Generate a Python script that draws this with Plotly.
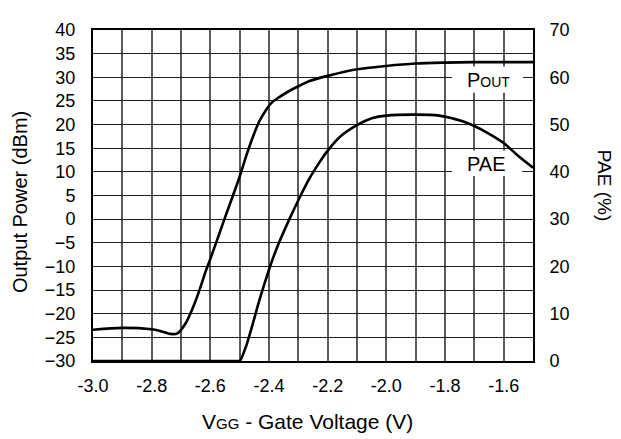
import plotly.graph_objects as go

# Output power (left axis, dBm) vs gate voltage
vgg_pout = [-3.0, -2.9, -2.8, -2.774, -2.734, -2.711, -2.683, -2.66, -2.637, -2.615,
            -2.6, -2.57, -2.552, -2.524, -2.5, -2.479, -2.456, -2.433, -2.41, -2.388,
            -2.365, -2.331, -2.3, -2.262, -2.2, -2.1, -2.0, -1.9, -1.8, -1.7, -1.6, -1.5]
pout_dbm = [-23.4, -23.0, -23.3, -23.6, -24.3, -24.1, -21.9, -18.8, -15.0, -10.9,
            -8.4, -3.2, 0.0, 4.8, 9.0, 13.1, 17.2, 20.7, 23.1, 24.8,
            25.8, 27.1, 28.1, 29.2, 30.3, 31.7, 32.4, 32.9, 33.1, 33.2, 33.2, 33.2]

# PAE (right axis, %) vs gate voltage
vgg_pae = [-3.0, -2.75, -2.51, -2.5, -2.48, -2.457, -2.434, -2.411, -2.389, -2.366, -2.332,
           -2.3, -2.262, -2.228, -2.2, -2.155, -2.1, -2.047, -2.0, -1.9, -1.82,
           -1.74, -1.7, -1.651, -1.6, -1.549, -1.5]
pae_pct = [0.0, 0.0, 0.0, 0.0, 2.8, 7.5, 12.6, 17.2, 21.3, 25.0, 29.8,
           34.0, 38.6, 42.0, 44.5, 47.6, 49.9, 51.4, 51.9, 52.1, 51.9,
           50.7, 49.7, 48.1, 46.1, 43.3, 40.9]

x_tickvals = [-3.0, -2.8, -2.6, -2.4, -2.2, -2.0, -1.8, -1.6]
x_ticktext = ["-3.0", "-2.8", "-2.6", "-2.4", "-2.2", "-2.0", "-1.8", "-1.6"]

FONT = "Liberation Sans, Arial, sans-serif"
CLEAR = "rgba(0,0,0,0)"

fig = go.Figure()
fig.add_trace(go.Scatter(x=vgg_pout, y=pout_dbm, mode="lines",
                         line=dict(color="black", width=2.6, shape="spline", smoothing=0.8),
                         showlegend=False, yaxis="y"))
fig.add_trace(go.Scatter(x=vgg_pae, y=pae_pct, mode="lines",
                         line=dict(color="black", width=2.6, shape="spline", smoothing=0.8),
                         showlegend=False, yaxis="y2"))

fig.update_layout(
    width=613, height=431,
    margin=dict(l=85, r=88, t=15, b=78),
    paper_bgcolor="white", plot_bgcolor="white",
    font=dict(family=FONT, color="black", size=18),
    xaxis=dict(range=[-3.0, -1.5], tickvals=x_tickvals, ticktext=x_ticktext,
               showgrid=True, gridcolor="#5a5a5a", gridwidth=1.6,
               minor=dict(dtick=0.1, tick0=-3.0, showgrid=True, gridcolor="#5a5a5a", gridwidth=1.6),
               showline=True, linecolor="black", linewidth=2, mirror=True,
               ticks="", ticklabelstandoff=7, tickfont=dict(size=18),
               zeroline=False),
    yaxis=dict(range=[-30, 40], dtick=5, tick0=-30,
               showgrid=True, gridcolor="#1e1e1e", gridwidth=1.3,
               showline=True, linecolor="black", linewidth=2, mirror=True,
               ticks="outside", ticklen=12, tickcolor=CLEAR, tickfont=dict(size=18),
               zeroline=False),
    yaxis2=dict(range=[0, 70], dtick=10, tick0=0, overlaying="y", side="right",
                showgrid=False, showline=False, ticks="outside", ticklen=12, tickcolor=CLEAR,
                tickfont=dict(size=18), zeroline=False),
)

# white label boxes: above the grid, below the curves
fig.update_layout(shapes=[
    dict(type="rect", xref="x", yref="y", x0=-1.776, x1=-1.534, y0=26.75, y1=32.3,
         fillcolor="white", line=dict(width=0), layer="between"),
    dict(type="rect", xref="x", yref="y", x0=-1.776, x1=-1.537, y0=9.15, y1=14.5,
         fillcolor="white", line=dict(width=0), layer="between"),
])

annotations = [
    dict(text="Output Power (dBm)", xref="paper", yref="paper", x=-0.166, y=0.48,
         textangle=-90, showarrow=False, font=dict(size=20), xanchor="center", yanchor="middle"),
    dict(text="PAE (%)", xref="paper", yref="paper", x=1.163, y=0.53,
         textangle=90, showarrow=False, font=dict(size=19), xanchor="center", yanchor="middle"),
    dict(text="V<span style='font-size:15px'>GG</span> - Gate Voltage (V)", xref="paper",
         yref="paper", x=0.487, y=-0.183, showarrow=False, font=dict(size=21),
         xanchor="center", yanchor="middle"),
    dict(text="P<span style='font-size:14px'>OUT</span>", x=-1.652, y=29.45, xref="x", yref="y",
         showarrow=False, font=dict(size=20), xanchor="center", yanchor="middle"),
    dict(text="PAE", x=-1.658, y=11.7, xref="x", yref="y",
         showarrow=False, font=dict(size=20), xanchor="center", yanchor="middle"),
]
fig.update_layout(annotations=annotations)

fig.write_html("out.html")
